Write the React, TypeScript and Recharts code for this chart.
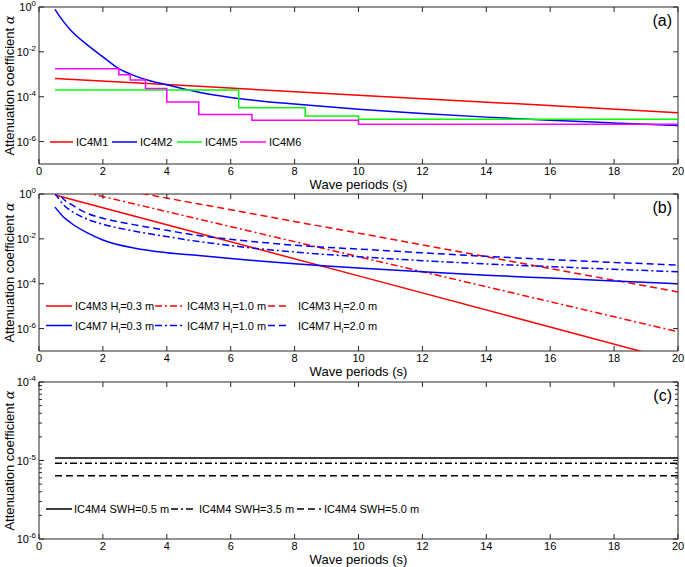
import React from 'react';
import { LineChart, Line, XAxis, YAxis, ReferenceArea, Legend } from 'recharts';

// values (wave period in s -> attenuation coefficient)

// panel (a)
const periodsM1 = [0.5, 5, 10, 15, 20];
const ic4m1 = [6.5e-4, 2.9e-4, 1.17e-4, 4.8e-5, 1.95e-5];
const periodsM2 = [0.5, 0.75, 1, 1.5, 2, 2.5, 3, 3.5, 4, 5, 6, 7, 8, 10, 12, 14, 16, 18, 20];
const ic4m2 = [0.79, 0.24, 0.089, 0.021, 6.0e-3, 1.78e-3, 8.5e-4, 5.0e-4, 3.4e-4, 1.58e-4, 9.3e-5, 6.3e-5, 4.7e-5, 2.75e-5, 1.8e-5, 1.23e-5, 8.9e-6, 6.8e-6, 5.2e-6];
const periodsM5 = [0.5, 6.25, 8.33, 10, 20];
const ic4m5 = [2e-4, 3.2e-5, 1.38e-5, 1e-5, 1e-5];
const periodsM6 = [0.5, 2.5, 2.857, 3.333, 4, 5, 6.667, 10, 20];
const ic4m6 = [1.75e-3, 9.5e-4, 5.5e-4, 2.3e-4, 5.8e-5, 1.6e-5, 8.9e-6, 5.9e-6, 5.9e-6];

// panel (b)
const periodsM3 = [0.5, 5, 10, 15, 20];
const ic4m3H03 = [0.91, 1.78e-2, 2.24e-4, 2.8e-6, 3.5e-8];
const ic4m3H10 = [2.45, 7.6e-2, 1.6e-3, 3.4e-5, 7.2e-7];
const ic4m3H20 = [5.5, 0.36, 1.8e-2, 8.7e-4, 4.3e-5];
const periodsM7 = [0.5, 0.75, 1, 1.5, 2, 3, 4, 5, 6, 7, 8, 9, 10, 12, 14, 16, 18, 20];
const ic4m7H03 = [0.26, 0.1, 0.051, 0.019, 8.9e-3, 3.8e-3, 2.4e-3, 1.82e-3, 1.32e-3, 1.0e-3, 7.8e-4, 6.2e-4, 5.0e-4, 3.4e-4, 2.4e-4, 1.78e-4, 1.32e-4, 1.0e-4];
const ic4m7H10 = [1.1, 0.35, 0.18, 0.076, 0.045, 0.022, 0.0126, 7.6e-3, 5.0e-3, 3.5e-3, 2.6e-3, 2.0e-3, 1.6e-3, 1.07e-3, 7.6e-4, 5.8e-4, 4.4e-4, 3.4e-4];
const ic4m7H20 = [2.0, 0.63, 0.35, 0.14, 0.083, 0.042, 0.024, 0.014, 9.5e-3, 6.9e-3, 5.2e-3, 4.2e-3, 3.5e-3, 2.4e-3, 1.66e-3, 1.2e-3, 8.9e-4, 6.8e-4];

// panel (c)
const periodsM4 = [0.5, 20];
const ic4m4Swh05 = [1.08e-5, 1.08e-5];
const ic4m4Swh35 = [9.2e-6, 9.2e-6];
const ic4m4Swh50 = [6.4e-6, 6.4e-6];

// axes
const xTicks = [0, 2, 4, 6, 8, 10, 12, 14, 16, 18, 20];
const yTicksAB = [1e-6, 1e-4, 1e-2, 1];
const yTicksC = [1e-6, 2e-6, 3e-6, 4e-6, 5e-6, 6e-6, 7e-6, 8e-6, 9e-6, 1e-5, 2e-5, 3e-5, 4e-5, 5e-5, 6e-5, 7e-5, 8e-5, 9e-5, 1e-4];

// layout
const W = 685;
const PL = 39;
const PR = 678;
const MT = 8;
const PH = 157;
const XH = 30;
const H = MT + PH + XH;
const AX = '#262626';
const FONT = '"Liberation Sans", Arial, Helvetica, sans-serif';
const DASHDOT = '7 3 2 3';
const DASHED = '7 4';

type Series = {
  name: string;
  t: number[];
  v: number[];
  color: string;
  dash?: string;
  curve: 'linear' | 'monotone' | 'stepAfter';
  // legend sample x0, x1, text x, row y (chart coords)
  leg: [number, number, number, number];
};

const seriesA: Series[] = [
  { name: 'IC4M1', t: periodsM1, v: ic4m1, color: '#ff0000', curve: 'linear', leg: [50, 73, 76, 143] },
  { name: 'IC4M2', t: periodsM2, v: ic4m2, color: '#0000ff', curve: 'monotone', leg: [112, 137, 140, 143] },
  { name: 'IC4M5', t: periodsM5, v: ic4m5, color: '#00ff00', curve: 'stepAfter', leg: [177, 202, 205, 143] },
  { name: 'IC4M6', t: periodsM6, v: ic4m6, color: '#ff00ff', curve: 'stepAfter', leg: [240, 266, 269, 143] },
];

const seriesB: Series[] = [
  { name: 'IC4M3 H_i=0.3 m', t: periodsM3, v: ic4m3H03, color: '#ff0000', curve: 'linear', leg: [46, 72, 75, 120] },
  { name: 'IC4M3 H_i=1.0 m', t: periodsM3, v: ic4m3H10, color: '#ff0000', dash: DASHDOT, curve: 'linear', leg: [155, 183, 187, 120] },
  { name: 'IC4M3 H_i=2.0 m', t: periodsM3, v: ic4m3H20, color: '#ff0000', dash: DASHED, curve: 'linear', leg: [268, 289, 298, 120] },
  { name: 'IC4M7 H_i=0.3 m', t: periodsM7, v: ic4m7H03, color: '#0000ff', curve: 'monotone', leg: [46, 72, 75, 139.5] },
  { name: 'IC4M7 H_i=1.0 m', t: periodsM7, v: ic4m7H10, color: '#0000ff', dash: DASHDOT, curve: 'monotone', leg: [155, 183, 187, 139.5] },
  { name: 'IC4M7 H_i=2.0 m', t: periodsM7, v: ic4m7H20, color: '#0000ff', dash: DASHED, curve: 'monotone', leg: [268, 289, 298, 139.5] },
];

const seriesC: Series[] = [
  { name: 'IC4M4 SWH=0.5 m', t: periodsM4, v: ic4m4Swh05, color: '#000000', curve: 'linear', leg: [46, 72, 74, 135] },
  { name: 'IC4M4 SWH=3.5 m', t: periodsM4, v: ic4m4Swh35, color: '#000000', dash: DASHDOT, curve: 'linear', leg: [171, 196, 199, 135] },
  { name: 'IC4M4 SWH=5.0 m', t: periodsM4, v: ic4m4Swh50, color: '#000000', dash: DASHED, curve: 'linear', leg: [297, 321, 324, 135] },
];

// one table per panel: every period that any series has, one column per series
function buildRows(series: Series[]) {
  const all = Array.from(new Set(series.flatMap((s) => s.t))).sort((a, b) => a - b);
  return all.map((t) => {
    const row: Record<string, number | undefined> = { t };
    series.forEach((s, k) => {
      const i = s.t.indexOf(t);
      row['s' + k] = i >= 0 ? s.v[i] : undefined;
    });
    return row;
  });
}

function Label({ text }: { text: string }) {
  const parts = text.split('_i');
  if (parts.length === 1) return <>{text}</>;
  return (
    <>
      {parts[0]}
      <tspan dy={3} fontSize={8}>i</tspan>
      <tspan dy={-3}>{parts[1]}</tspan>
    </>
  );
}

function LegendSvg({ series }: { series: Series[] }) {
  return (
    <svg width={W} height={H} style={{ position: 'absolute', left: 0, top: 0, overflow: 'visible' }}>
      {series.map((s) => (
        <g key={s.name}>
          <line x1={s.leg[0]} x2={s.leg[1]} y1={s.leg[3]} y2={s.leg[3]} stroke={s.color} strokeWidth={1.5} strokeDasharray={s.dash} />
          <text x={s.leg[2]} y={s.leg[3] + 4} fontSize={11} fontFamily={FONT} fill="#000">
            <Label text={s.name} />
          </text>
        </g>
      ))}
    </svg>
  );
}

const renderXTick = (props: any) => {
  const { x, payload } = props;
  return (
    <g>
      <line x1={x} x2={x} y1={MT + PH} y2={MT + PH - 5} stroke={AX} />
      <line x1={x} x2={x} y1={MT} y2={MT + 5} stroke={AX} />
      <text x={x} y={MT + PH + 10.5} textAnchor="middle" fontSize={11} fontFamily={FONT} fill="#000">
        {payload.value}
      </text>
    </g>
  );
};

const renderYTick = (props: any) => {
  const { y, payload } = props;
  const lg = Math.log10(payload.value);
  const exp = Math.round(lg);
  const major = Math.abs(lg - exp) < 1e-6;
  const len = major ? 5 : 3;
  return (
    <g>
      <line x1={PL} x2={PL + len} y1={y} y2={y} stroke={AX} />
      <line x1={PR - len} x2={PR} y1={y} y2={y} stroke={AX} />
      {major && (
        <text x={PL - 3} y={y + 4} textAnchor="end" fontSize={11} fontFamily={FONT} fill="#000">
          10
          <tspan dy={-5} fontSize={8}>{String(exp)}</tspan>
        </text>
      )}
    </g>
  );
};

function Panel({ top, yDomain, yTicks, series, tag }: { top: number; yDomain: [number, number]; yTicks: number[]; series: Series[]; tag: string }) {
  const rows = buildRows(series);
  return (
    <div style={{ position: 'absolute', left: 0, top: top - MT, width: W, height: H }}>
      <LineChart width={W} height={H} data={rows} margin={{ top: MT, right: W - PR, bottom: 0, left: 0 }}>
        <XAxis
          dataKey="t"
          type="number"
          domain={[0, 20]}
          ticks={xTicks}
          interval={0}
          allowDataOverflow
          height={XH}
          tickSize={0}
          tickLine={false}
          axisLine={false}
          tick={renderXTick}
        />
        <YAxis
          type="number"
          scale="log"
          domain={yDomain}
          ticks={yTicks}
          interval={0}
          allowDataOverflow
          width={PL}
          tickSize={0}
          tickLine={false}
          axisLine={false}
          tick={renderYTick}
        />
        <ReferenceArea x1={0} x2={20} y1={yDomain[0]} y2={yDomain[1]} fill="none" stroke={AX} strokeWidth={1} ifOverflow="visible" />
        {series.map((s, k) => (
          <Line
            key={s.name}
            dataKey={'s' + k}
            name={s.name}
            type={s.curve}
            stroke={s.color}
            strokeWidth={1.5}
            strokeDasharray={s.dash}
            connectNulls
            dot={false}
            activeDot={false}
            isAnimationActive={false}
          />
        ))}
        <Legend
          layout="horizontal"
          verticalAlign="middle"
          align="center"
          wrapperStyle={{ left: 0, top: 0, width: W, height: H, pointerEvents: 'none' }}
          content={() => <LegendSvg series={series} />}
        />
        <text x={PR - 6} y={MT + 19} textAnchor="end" fontSize={16} fontFamily={FONT} fill="#000">
          {tag}
        </text>
        <text x={(PL + PR) / 2} y={MT + PH + 24.5} textAnchor="middle" fontSize={13} fontFamily={FONT} fill="#000">
          Wave periods (s)
        </text>
        <text
          x={14}
          y={MT + PH / 2}
          transform={`rotate(-90, 14, ${MT + PH / 2})`}
          textAnchor="middle"
          fontSize={13}
          fontFamily={FONT}
          fill="#000"
        >
          Attenuation coefficient{' '}
          <tspan fontStyle="italic" fontFamily='"DejaVu Serif", serif'>α</tspan>
        </text>
      </LineChart>
    </div>
  );
}

export default function App() {
  return (
    <div style={{ position: 'absolute', left: 0, top: 0, width: W, height: 567, background: '#fff', overflow: 'hidden' }}>
      <Panel top={7} yDomain={[1e-7, 1]} yTicks={yTicksAB} series={seriesA} tag="(a)" />
      <Panel top={194} yDomain={[1e-7, 1]} yTicks={yTicksAB} series={seriesB} tag="(b)" />
      <Panel top={382} yDomain={[1e-6, 1e-4]} yTicks={yTicksC} series={seriesC} tag="(c)" />
    </div>
  );
}
